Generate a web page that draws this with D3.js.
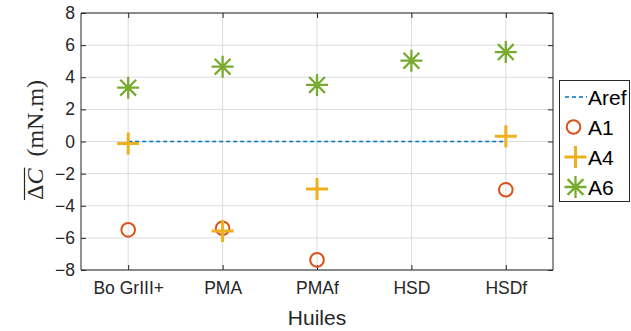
<!DOCTYPE html>
<html><head><meta charset="utf-8">
<script src="https://cdn.jsdelivr.net/npm/d3@7"></script>
<style>body{margin:0;background:#fff}svg{display:block}</style>
</head><body>
<svg id="c" width="631" height="331"></svg>
<script>
const categories = ["Bo GrIII+", "PMA", "PMAf", "HSD", "HSDf"];
const arefValues = [0, 0, 0, 0, 0];
const a1Values = [-5.5, -5.4, -7.37, null, -3.0];
const a4Values = [-0.12, -5.57, -2.96, null, 0.33];
const a6Values = [3.35, 4.66, 3.52, 5.03, 5.57];
const yTicks = [-8, -6, -4, -2, 0, 2, 4, 6, 8];

const svg = d3.select("#c");
const L = 81, R = 553, T = 13, B = 270;
const x = d3.scaleLinear().domain([0.5, 5.5]).range([L, R]);
const y = d3.scaleLinear().domain([-8, 8]).range([B, T]);
const font = "'Liberation Sans', Arial, sans-serif";
const axCol = "#262626";

// grid
const g = svg.append("g");
g.selectAll(".gy").data(yTicks).enter().append("line")
  .attr("x1", L).attr("x2", R).attr("y1", d => y(d)).attr("y2", d => y(d))
  .attr("stroke", "#dcdcdc").attr("stroke-width", 1);
g.selectAll(".gx").data(categories).enter().append("line")
  .attr("x1", (d, i) => x(i + 1)).attr("x2", (d, i) => x(i + 1)).attr("y1", T).attr("y2", B)
  .attr("stroke", "#dcdcdc").attr("stroke-width", 1);

// axes
const yAxis = d3.axisLeft(y).tickValues(yTicks).tickSize(-5).tickPadding(6).tickFormat(d3.format("d"));
const ya = svg.append("g").attr("transform", `translate(${L},0)`).call(yAxis);
const yAxisR = d3.axisRight(y).tickValues(yTicks).tickSize(-5).tickFormat("");
const yaR = svg.append("g").attr("transform", `translate(${R},0)`).call(yAxisR);
const xAxis = d3.axisBottom(x).tickValues([1,2,3,4,5]).tickSize(-5).tickPadding(12).tickFormat(d => categories[d - 1]);
const xa = svg.append("g").attr("transform", `translate(0,${B})`).call(xAxis);
const xAxisT = d3.axisTop(x).tickValues([1,2,3,4,5]).tickSize(-5).tickFormat("");
const xaT = svg.append("g").attr("transform", `translate(0,${T})`).call(xAxisT);
[ya, yaR, xa, xaT].forEach(a => {
  a.attr("font-size", null).attr("font-family", null);
  a.select(".domain").attr("stroke", axCol).attr("stroke-width", 1);
  a.selectAll(".tick line").attr("stroke", axCol);
  a.selectAll("text").attr("fill", axCol).style("font-family", font).style("font-size", "17.5px");
});
ya.select(".domain").attr("d", `M0,${T}V${B}`);
yaR.select(".domain").attr("d", `M0,${T}V${B}`);
xa.select(".domain").attr("d", `M${L},0H${R}`);
xaT.select(".domain").attr("d", `M${L},0H${R}`);

// Aref line
const line = d3.line().x((d, i) => x(i + 1)).y(d => y(d));
svg.append("path").datum(arefValues).attr("d", line).attr("fill", "none")
  .attr("stroke", "#0072BD").attr("stroke-width", 1.3).attr("stroke-dasharray", "4,3");

const colA1 = "#D95319", colA4 = "#EDB120", colA6 = "#77AC30";
function plus(sel, s) { sel.append("path").attr("d", `M${-s},0H${s}M0,${-s}V${s}`); }
function star(sel, s) {
  const d = s * 0.72;
  sel.append("path").attr("d", `M${-s},0H${s}M0,${-s}V${s}M${-d},${-d}L${d},${d}M${-d},${d}L${d},${-d}`);
}
// A1 circles
svg.selectAll(".a1").data(a1Values.map((v, i) => [i + 1, v]).filter(d => d[1] !== null)).enter()
  .append("circle").attr("cx", d => x(d[0])).attr("cy", d => y(d[1])).attr("r", 6.8)
  .attr("fill", "none").attr("stroke", colA1).attr("stroke-width", 2);
// A4 plus
svg.selectAll(".a4").data(a4Values.map((v, i) => [i + 1, v]).filter(d => d[1] !== null)).enter()
  .append("g").attr("transform", d => `translate(${x(d[0])},${y(d[1])})`)
  .attr("stroke", colA4).attr("stroke-width", 3).each(function () { plus(d3.select(this), 11); });
// A6 star
svg.selectAll(".a6").data(a6Values.map((v, i) => [i + 1, v]).filter(d => d[1] !== null)).enter()
  .append("g").attr("transform", d => `translate(${x(d[0])},${y(d[1])})`)
  .attr("stroke", colA6).attr("stroke-width", 2.3).each(function () { star(d3.select(this), 11); });

// x label
svg.append("text").attr("x", (L + R) / 2).attr("y", 325).attr("text-anchor", "middle")
  .attr("fill", axCol).style("font-family", font).style("font-size", "21px").text("Huiles");

// y label
const yl = svg.append("g").attr("transform", "translate(43,140) rotate(-90)");
const yt = yl.append("text").attr("text-anchor", "middle").attr("fill", axCol)
  .style("font-family", "'Liberation Serif', 'DejaVu Serif', serif").style("font-size", "24px");
const t1 = yt.append("tspan").text("Δ");
const t2 = yt.append("tspan").style("font-style", "italic").text("C");
yt.append("tspan").text("\u2002(mN.m)");
const bb = yt.node().getBBox();
const w1 = t1.node().getComputedTextLength() + t2.node().getComputedTextLength();
yl.append("line").attr("x1", bb.x).attr("x2", bb.x + w1 + 1).attr("y1", -18.5).attr("y2", -18.5)
  .attr("stroke", axCol).attr("stroke-width", 1.2);

// legend
const lg = svg.append("g");
lg.append("rect").attr("x", 559.5).attr("y", 80.5).attr("width", 70).attr("height", 121)
  .attr("fill", "#fff").attr("stroke", axCol).attr("stroke-width", 1);
const items = [["Aref", "line"], ["A1", "circle"], ["A4", "plus"], ["A6", "star"]];
items.forEach((it, i) => {
  const cy = 97 + i * 30, cx = 574.5;
  const gi = lg.append("g");
  if (it[1] === "line") gi.append("line").attr("x1", 565).attr("x2", 587).attr("y1", cy).attr("y2", cy)
    .attr("stroke", "#0072BD").attr("stroke-width", 1.3).attr("stroke-dasharray", "4,3");
  if (it[1] === "circle") gi.append("circle").attr("cx", cx - 1).attr("cy", cy).attr("r", 6.8)
    .attr("fill", "none").attr("stroke", colA1).attr("stroke-width", 2);
  if (it[1] === "plus") { const s = gi.append("g").attr("transform", `translate(${cx + 1},${cy})`).attr("stroke", colA4).attr("stroke-width", 3); plus(s, 11); }
  if (it[1] === "star") { const s = gi.append("g").attr("transform", `translate(${cx + 1},${cy})`).attr("stroke", colA6).attr("stroke-width", 2.3); star(s, 11); }
  lg.append("text").attr("x", 588).attr("y", cy + 7.5).attr("fill", "#000")
    .style("font-family", font).style("font-size", "21px").text(it[0]);
});
</script>
</body></html>
